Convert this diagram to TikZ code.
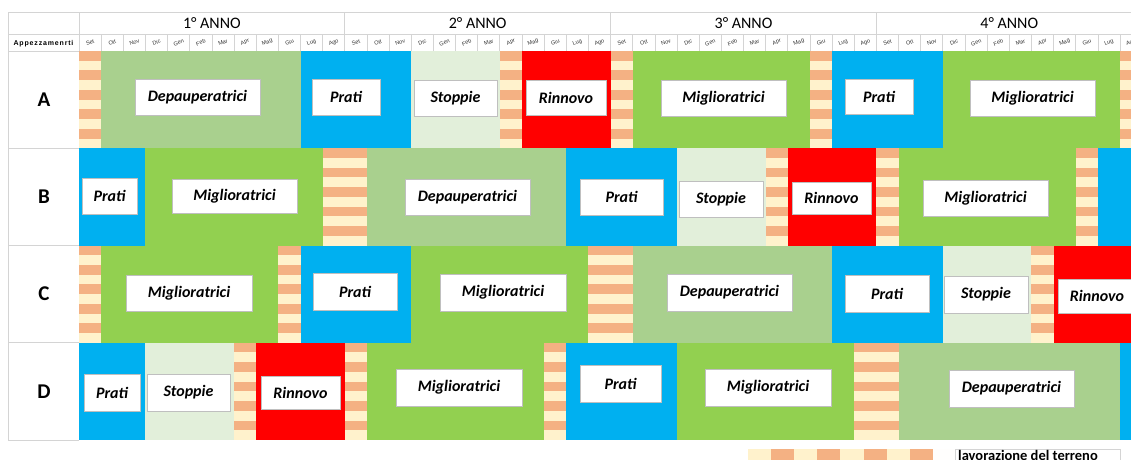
\documentclass[tikz,border=0pt]{standalone}
\usepackage{fontspec}
\setmainfont{Carlito}
\newfontfamily\arialf{Liberation Sans}
\newfontfamily\apfont[LetterSpace=12]{Liberation Sans}
\definecolor{prati}{HTML}{00B0F0}
\definecolor{depa}{HTML}{A9D08E}
\definecolor{mig}{HTML}{92D050}
\definecolor{stop}{HTML}{E2EFDA}
\definecolor{rinn}{HTML}{FF0000}
\definecolor{salmon}{HTML}{F4B183}
\definecolor{cream}{HTML}{FFF2CC}
\definecolor{gridgray}{HTML}{D4D4D4}
\definecolor{boxgray}{HTML}{BFBFBF}
\newcommand\blk[4]{\fill[#4] ({79+22.15*(#2)},{#1}) rectangle ({79+22.15*(#3)},{#1+97.25});}
\newcommand\strp[3]{\fill[cream] ({79+22.15*(#2)},{#1}) rectangle ({79+22.15*(#3)},{#1+97.25});
  \foreach \k in {0,...,4}{\fill[salmon] ({79+22.15*(#2)},{#1+19.45*\k}) rectangle ({79+22.15*(#3)},{#1+19.45*\k+9.725});}}
\newcommand\lab[6]{\node[labbox, minimum width={(#3)-(#2)}, minimum height={(#5)-(#4)}] (#1) at ({((#2)+(#3))/2},{((#4)+(#5))/2}) {#6};}
\begin{document}
\begin{tikzpicture}[x=1pt,y=-1pt,
  labbox/.style={draw=boxgray, line width=0.9pt, fill=white, inner sep=0pt, font=\fontsize{16}{16}\selectfont\bfseries\itshape},
  gridline/.style={draw=gridgray, line width=0.8pt},
  monthtxt/.style={font=\fontsize{5.6}{5.6}\selectfont\arialf, text=black!80, rotate=20, inner sep=0pt},
  yeartxt/.style={font=\fontsize{16}{16}\selectfont, inner sep=0pt},
  rowtxt/.style={font=\fontsize{21}{21}\selectfont\bfseries, inner sep=0pt}]
\useasboundingbox (0,0) rectangle (1131,459);
\clip (0,0) rectangle (1131,459);
% header grid
\draw[gridline] (8,12) -- (1131,12);
\draw[gridline] (8,34) -- (1131,34);
\draw[gridline] (8,51) -- (1131,51);
\draw[gridline] (8,12) -- (8,440);
\draw[gridline] (79,12) -- (79,440);
\foreach \y in {148.25,245.5,342.75,440} {\draw[gridline] (8,\y) -- (79,\y);}
\foreach \k in {1,2,3} {\draw[gridline] ({79+22.15*12*\k},12) -- ({79+22.15*12*\k},34);}
\foreach \m in {1,...,48} {\draw[gridline] ({79+22.15*\m},34) -- ({79+22.15*\m},51);}
% year labels
\node[yeartxt] (y1) at ({79+22.15*6},23) {1° ANNO};
\node[yeartxt] (y2) at ({79+22.15*18},23) {2° ANNO};
\node[yeartxt] (y3) at ({79+22.15*30},23) {3° ANNO};
\node[yeartxt] (y4) at ({79+22.15*42},23) {4° ANNO};
% month labels
\foreach \mn [count=\i from 0] in {Set,Ott,Nov,Dic,Gen,Feb,Mar,Apr,Mag,Giu,Lug,Ago,Set,Ott,Nov,Dic,Gen,Feb,Mar,Apr,Mag,Giu,Lug,Ago,Set,Ott,Nov,Dic,Gen,Feb,Mar,Apr,Mag,Giu,Lug,Ago,Set,Ott,Nov,Dic,Gen,Feb,Mar,Apr,Mag,Giu,Lug,Ago}
  {\node[monthtxt] (mo\i) at ({79+22.15*\i+11.07},42.5) {\mn};}
\node[font=\fontsize{7}{7}\selectfont\apfont\bfseries, inner sep=0pt] (appz) at (43.5,44) {Appezzamenrti};
% row labels
\node[rowtxt] (ra) at (44,99.5) {A};
\node[rowtxt] (rb) at (44,196.9) {B};
\node[rowtxt] (rc) at (44,294.1) {C};
\node[rowtxt] (rd) at (44,391.4) {D};
% Row A
\strp{51}{0}{1} \blk{51}{1}{10}{depa} \blk{51}{10}{15}{prati} \blk{51}{15}{19}{stop}
\strp{51}{19}{20} \blk{51}{20}{24}{rinn} \strp{51}{24}{25} \blk{51}{25}{33}{mig}
\strp{51}{33}{34} \blk{51}{34}{39}{prati} \blk{51}{39}{47}{mig} \strp{51}{47}{48}
% Row B
\blk{148.25}{0}{3}{prati} \blk{148.25}{3}{11}{mig} \strp{148.25}{11}{13} \blk{148.25}{13}{22}{depa}
\blk{148.25}{22}{27}{prati} \blk{148.25}{27}{31}{stop} \strp{148.25}{31}{32} \blk{148.25}{32}{36}{rinn}
\strp{148.25}{36}{37} \blk{148.25}{37}{45}{mig} \strp{148.25}{45}{46} \blk{148.25}{46}{48}{prati}
% Row C
\strp{245.5}{0}{1} \blk{245.5}{1}{9}{mig} \strp{245.5}{9}{10} \blk{245.5}{10}{15}{prati}
\blk{245.5}{15}{23}{mig} \strp{245.5}{23}{25} \blk{245.5}{25}{34}{depa} \blk{245.5}{34}{39}{prati}
\blk{245.5}{39}{43}{stop} \strp{245.5}{43}{44} \blk{245.5}{44}{48}{rinn}
% Row D
\blk{342.75}{0}{3}{prati} \blk{342.75}{3}{7}{stop} \strp{342.75}{7}{8} \blk{342.75}{8}{12}{rinn}
\strp{342.75}{12}{13} \blk{342.75}{13}{21}{mig} \strp{342.75}{21}{22} \blk{342.75}{22}{27}{prati}
\blk{342.75}{27}{35}{mig} \strp{342.75}{35}{37} \blk{342.75}{37}{47}{depa} \blk{342.75}{47}{48}{prati}
% labels row A
\lab{a1}{135}{260}{79}{115}{Depauperatrici}
\lab{a2}{312}{380}{79}{115}{Prati}
\lab{a3}{414}{497}{80}{116}{Stoppie}
\lab{a4}{526}{606}{80}{115}{Rinnovo}
\lab{a5}{661}{786}{80}{116}{Miglioratrici}
\lab{a6}{845}{913}{79}{114}{Prati}
\lab{a7}{970}{1095}{80}{116}{Miglioratrici}
% labels row B
\lab{b1}{82}{137}{178}{214}{Prati}
\lab{b2}{172}{297}{179}{213}{Miglioratrici}
\lab{b3}{405}{530}{179}{215}{Depauperatrici}
\lab{b4}{580}{663}{179}{215}{Prati}
\lab{b5}{679}{763}{181}{217}{Stoppie}
\lab{b6}{792}{871}{182}{214}{Rinnovo}
\lab{b7}{923}{1048}{180}{216}{Miglioratrici}
% labels row C
\lab{c1}{126}{252}{275}{311}{Miglioratrici}
\lab{c2}{313}{397}{273}{310}{Prati}
\lab{c3}{440}{566}{274}{311}{Miglioratrici}
\lab{c4}{667}{792}{274}{311}{Depauperatrici}
\lab{c5}{845}{929}{275}{312}{Prati}
\lab{c6}{944}{1028}{276}{313}{Stoppie}
\lab{c7}{1058}{1136}{279}{313}{Rinnovo}
% labels row D
\lab{d1}{84}{140}{374}{411}{Prati}
\lab{d2}{147}{230}{374}{411}{Stoppie}
\lab{d3}{261}{340}{376}{409}{Rinnovo}
\lab{d4}{396}{522}{369}{406}{Miglioratrici}
\lab{d5}{580}{661}{365}{402}{Prati}
\lab{d6}{705}{831}{369}{406}{Miglioratrici}
\lab{d7}{949}{1074}{370}{407}{Depauperatrici}
% legend
\foreach \j in {0,...,7} {
  \pgfmathsetmacro\lc{mod(\j,2)==0 ? "cream" : "salmon"}
  \fill[\lc] ({748+23.1*\j},449) rectangle ({748+23.1*(\j+1)},460);}
\fill[white!97!cream] (933,449) rectangle (955,460);
\draw[gridline] (955,449) rectangle (1120,470);
\node[anchor=base west, inner sep=0pt, font=\fontsize{14.5}{14.5}\selectfont\bfseries] (leg) at (958,460) {lavorazione del terreno};
\end{tikzpicture}
\end{document}
